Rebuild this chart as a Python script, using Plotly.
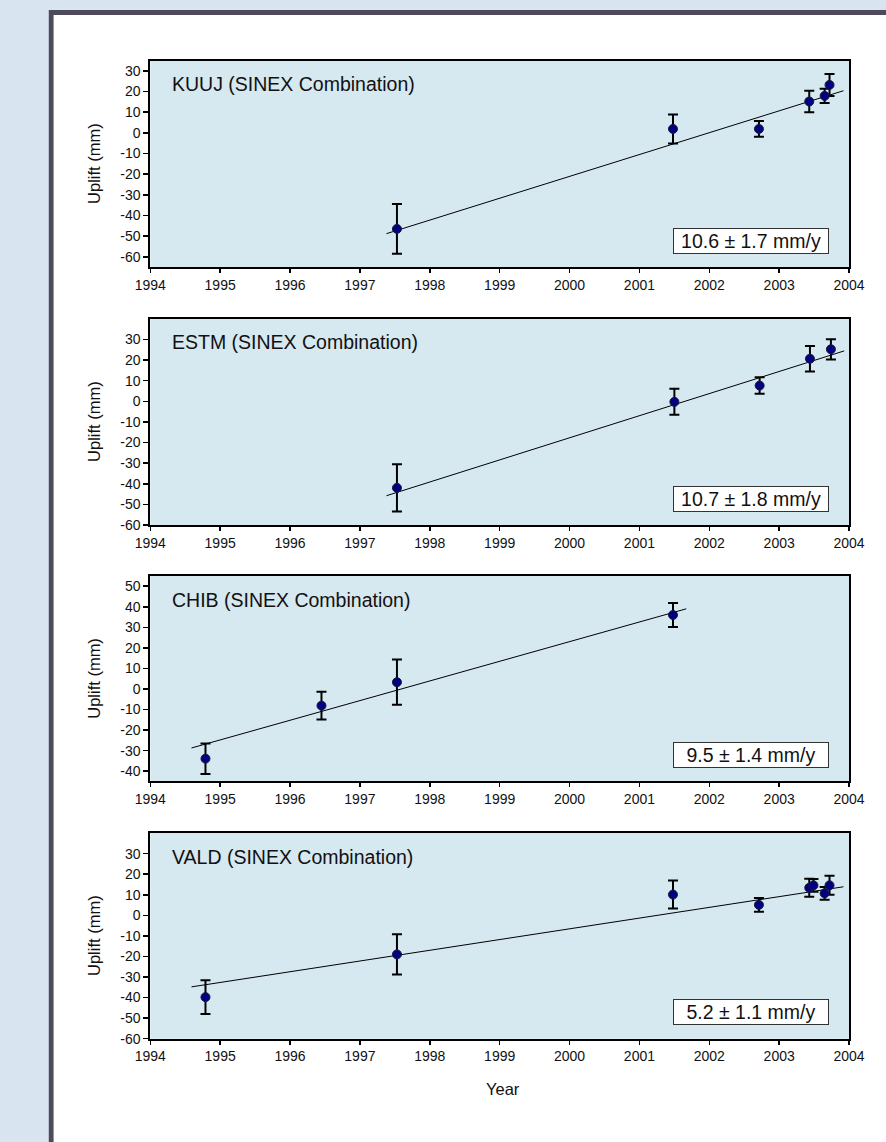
import plotly.graph_objects as go

# ---------------- data ----------------
stations = ["KUUJ", "ESTM", "CHIB", "VALD"]

kuuj_year = [1997.53, 2001.48, 2002.71, 2003.43, 2003.65, 2003.72]
kuuj_uplift = [-46.5, 1.9, 1.9, 15.2, 17.9, 23.2]
kuuj_err = [12.0, 7.0, 3.8, 5.2, 3.5, 5.3]
kuuj_trend_year = [1997.38, 2003.92]
kuuj_trend_uplift = [-48.8, 20.4]

estm_year = [1997.53, 2001.50, 2002.72, 2003.44, 2003.74]
estm_uplift = [-42.0, -0.3, 7.6, 20.6, 25.2]
estm_err = [11.5, 6.3, 4.0, 6.2, 4.9]
estm_trend_year = [1997.38, 2003.93]
estm_trend_uplift = [-45.8, 24.4]

chib_year = [1994.79, 1996.45, 1997.53, 2001.48]
chib_uplift = [-33.9, -8.1, 3.3, 36.0]
chib_err = [7.4, 6.7, 11.0, 5.8]
chib_trend_year = [1994.59, 2001.67]
chib_trend_uplift = [-28.7, 39.0]

vald_year = [1994.79, 1997.53, 2001.48, 2002.71, 2003.43, 2003.49, 2003.65, 2003.72]
vald_uplift = [-39.8, -19.0, 10.1, 5.1, 13.4, 14.6, 10.7, 14.6]
vald_err = [8.2, 9.8, 6.8, 3.3, 4.4, 3.1, 3.1, 4.6]
vald_trend_year = [1994.59, 2003.92]
vald_trend_uplift = [-34.8, 13.9]

rates = ["10.6 ± 1.7 mm/y", "10.7 ± 1.8 mm/y", "9.5 ± 1.4 mm/y", "5.2 ± 1.1 mm/y"]
y_ranges = [[-65, 35], [-60, 40], [-45, 55], [-60, 40]]
y_ticks = [list(range(-60, 31, 10)), list(range(-60, 31, 10)),
           list(range(-40, 51, 10)), list(range(-60, 31, 10))]
x_ticks = list(range(1994, 2005))

series = [
    (kuuj_year, kuuj_uplift, kuuj_err, kuuj_trend_year, kuuj_trend_uplift),
    (estm_year, estm_uplift, estm_err, estm_trend_year, estm_trend_uplift),
    (chib_year, chib_uplift, chib_err, chib_trend_year, chib_trend_uplift),
    (vald_year, vald_uplift, vald_err, vald_trend_year, vald_trend_uplift),
]

# ---------------- layout geometry ----------------
W, H = 886, 1142
panel_px = [(61, 269), (321, 528.7), (580, 787), (839, 1046)]
x_left, x_right = 139.3, 864.3
FONT = "Arial, Liberation Sans, Helvetica, sans-serif"
PLOT_BG = "#d6e8f0"
OUTER_BG = "#d8e5f0"
FRAME = "#4e4a5e"

fig = go.Figure()

shapes = [
    dict(type="rect", xref="paper", yref="paper", x0=34 / W, x1=1.2,
         y0=-0.2, y1=1 - 10 / H, fillcolor=FRAME, line=dict(width=0), layer="below"),
    dict(type="rect", xref="paper", yref="paper", x0=39 / W, x1=1.2,
         y0=-0.2, y1=1 - 15 / H, fillcolor="white", line=dict(width=0), layer="below"),
]
annotations = []

for i, (name, (yr, up, er, tx, ty)) in enumerate(zip(stations, series)):
    n = i + 1
    xa = "x" if n == 1 else f"x{n}"
    ya = "y" if n == 1 else f"y{n}"
    top, bot = panel_px[i]
    ydom = [1 - bot / H, 1 - top / H]

    fig.add_trace(go.Scatter(x=tx, y=ty, mode="lines", xaxis=xa, yaxis=ya,
                             line=dict(color="black", width=1), showlegend=False,
                             hoverinfo="skip"))
    fig.add_trace(go.Scatter(x=yr, y=up, mode="markers", xaxis=xa, yaxis=ya,
                             marker=dict(color="#000080", size=9,
                                         line=dict(color="#1a1a3a", width=1)),
                             error_y=dict(type="data", array=er, visible=True,
                                          color="black", thickness=2, width=5),
                             showlegend=False))

    axis_common = dict(showline=True, linecolor="black", linewidth=2, mirror=True,
                       showgrid=False, zeroline=False, ticks="outside",
                       tickcolor="black", tickwidth=1.5,
                       tickfont=dict(family=FONT, size=14, color="#111111"))
    fig.layout[f"xaxis{'' if n == 1 else n}"] = dict(
        domain=[x_left / W, x_right / W], range=[1994, 2004], anchor=ya,
        tickvals=x_ticks, ticktext=[str(v) for v in x_ticks], ticklen=4,
        **axis_common)
    fig.layout[f"yaxis{'' if n == 1 else n}"] = dict(
        domain=ydom, range=y_ranges[i], anchor=xa,
        tickvals=y_ticks[i], ticktext=[str(v) for v in y_ticks[i]], ticklen=5,
        **axis_common)

    shapes.append(dict(type="rect", xref=f"{xa} domain", yref=f"{ya} domain",
                       x0=0, x1=1, y0=0, y1=1, fillcolor=PLOT_BG,
                       line=dict(width=0), layer="below"))

    # station title
    annotations.append(dict(text=f"{name} (SINEX Combination)", xref=f"{xa} domain",
                            yref=f"{ya} domain", x=0.028, y=1 - 23.8 / (bot - top),
                            xanchor="left", yanchor="middle", showarrow=False,
                            font=dict(family=FONT, size=19.5, color="#111111")))
    # rate box
    annotations.append(dict(text=rates[i], xref=f"{xa} domain", yref=f"{ya} domain",
                            x=(843.3 - x_left) / (x_right - x_left), y=13.5 / (bot - top),
                            xanchor="right", yanchor="bottom", showarrow=False,
                            bgcolor="white", bordercolor="#333333", borderwidth=1,
                            borderpad=1, width=152, height=22,
                            font=dict(family=FONT, size=19.5, color="#111111")))
    # y title
    annotations.append(dict(text="Uplift (mm)", xref="paper", yref="paper",
                            x=81 / W, y=1 - (top + bot) / 2 / H, textangle=-90,
                            xanchor="center", yanchor="middle", showarrow=False,
                            font=dict(family=FONT, size=16.5, color="#111111")))

annotations.append(dict(text="Year", xref="paper", yref="paper",
                        x=505.5 / W, y=1 - 1096.7 / H, xanchor="center",
                        yanchor="middle", showarrow=False,
                        font=dict(family=FONT, size=16.5, color="#111111")))

fig.update_layout(width=W, height=H, margin=dict(l=0, r=0, t=0, b=0),
                  paper_bgcolor=OUTER_BG, plot_bgcolor=PLOT_BG,
                  shapes=shapes, annotations=annotations, showlegend=False)

# remove the browser's default 8px body margin so the figure fills the window exactly
fig.write_html("out.html",
               config={"displayModeBar": False, "staticPlot": True},
               post_script="document.body.style.margin='0';document.body.style.overflow='hidden';")
